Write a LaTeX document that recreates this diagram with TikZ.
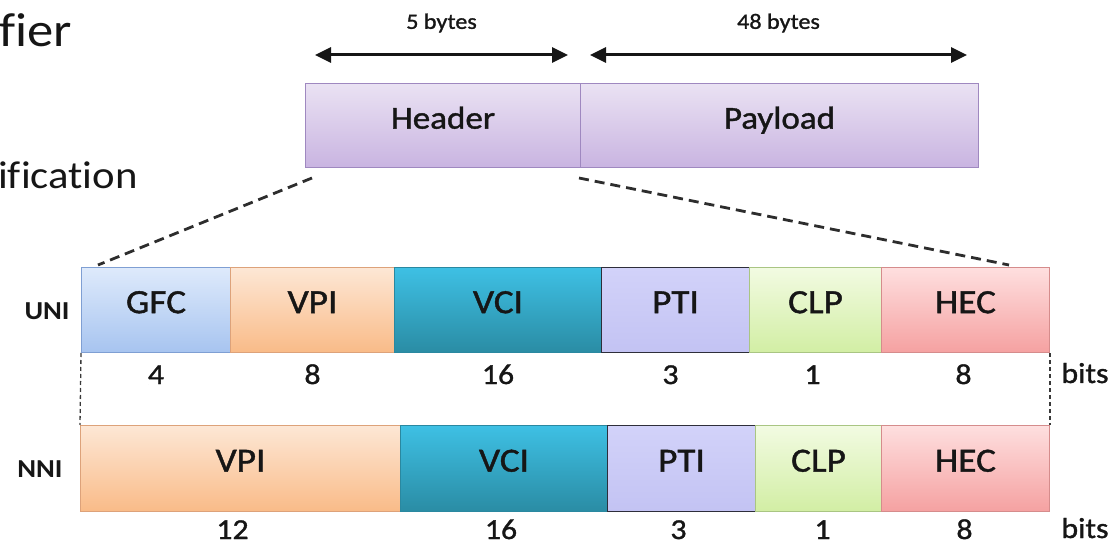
\documentclass[tikz,border=0pt]{standalone}
\usepackage{fontspec}
\setmainfont[FakeStretch=1.1,Ligatures=NoCommon]{Carlito}
\newfontfamily\diagfont[FakeStretch=1.1,FakeBold=1.2,Ligatures=NoCommon]{Carlito}
\usetikzlibrary{arrows.meta,calc}

% palette of the cell fields
\definecolor{ink}{HTML}{161616}
\definecolor{hdrTop}{HTML}{EAE2F3}
\definecolor{hdrBot}{HTML}{C9B4E1}
\definecolor{hdrLine}{HTML}{9F88C0}
\definecolor{gfcTop}{HTML}{DEEAFB}
\definecolor{gfcBot}{HTML}{A7C4F0}
\definecolor{gfcLine}{HTML}{7F9FD3}
\definecolor{vpiTop}{HTML}{FDE7D5}
\definecolor{vpiBot}{HTML}{F9BB88}
\definecolor{vpiLine}{HTML}{DDA27A}
\definecolor{vciTop}{HTML}{3EC0E4}
\definecolor{vciBot}{HTML}{2A8CA4}
\definecolor{vciLine}{HTML}{2A88A0}
\definecolor{ptiTop}{HTML}{D2D2F9}
\definecolor{ptiBot}{HTML}{C3C3F3}
\definecolor{ptiLine}{HTML}{2E2E3A}
\definecolor{clpTop}{HTML}{F2FBE2}
\definecolor{clpBot}{HTML}{D2EEA4}
\definecolor{clpLine}{HTML}{A9C583}
\definecolor{hecTop}{HTML}{FEDFDF}
\definecolor{hecBot}{HTML}{F5A1A1}
\definecolor{hecLine}{HTML}{D58C8C}

\tikzset{
  field/.style={draw, line width=1bp, inner sep=0pt, anchor=north west,
    text=ink, font=\diagfont\fontsize{34}{34}\selectfont, text height=0.63em, text depth=0pt},
  cellpart/.style={field, font=\diagfont\fontsize{32}{32}\selectfont},
  gfc/.style={top color=gfcTop, bottom color=gfcBot, draw=gfcLine},
  vpi/.style={top color=vpiTop, bottom color=vpiBot, draw=vpiLine},
  vci/.style={top color=vciTop, bottom color=vciBot, draw=vciLine},
  pti/.style={top color=ptiTop, bottom color=ptiBot, draw=ptiLine},
  clp/.style={top color=clpTop, bottom color=clpBot, draw=clpLine},
  hec/.style={top color=hecTop, bottom color=hecBot, draw=hecLine},
  hdr/.style={top color=hdrTop, bottom color=hdrBot, draw=hdrLine},
  width/.style={text=ink, font=\diagfont\fontsize{29}{29}\selectfont, anchor=base, inner sep=0pt},
  rowname/.style={text=ink, font=\fontsize{26}{26}\selectfont\bfseries, inner sep=0pt},
  span/.style={line width=3bp, ink, arrows={Triangle[length=16bp,width=15bp]-Triangle[length=16bp,width=15bp]}},
  spanlabel/.style={text=ink, font=\diagfont\fontsize{22}{22}\selectfont, inner sep=0pt},
  zoomline/.style={draw=ink!90, line width=2.8bp, dash pattern=on 10bp off 6bp},
  guide/.style={draw=ink!85, line width=1.3bp, dash pattern=on 4bp off 3bp},
  slide/.style={text=ink, anchor=base west, inner sep=0pt}
}

\begin{document}
\begin{tikzpicture}[x=1bp,y=-1bp]
\useasboundingbox (0,0) rectangle (1112,544);

% fragments of the slide text on the left
\node[slide, font=\fontsize{48}{48}\selectfont] (t1) at (-1,47) {fier};
\node[slide, font=\fontsize{39}{39}\selectfont] (t2) at (-2,189) {ification};

% ATM cell: header and payload
\node[field, cellpart, hdr, minimum width=275bp, minimum height=84bp] (hdr) at (305,83) {Header};
\node[field, cellpart, hdr, minimum width=398bp, minimum height=84bp] (pay) at (580,83) {Payload};

% byte spans above the cell
\coordinate (s1a) at ($(hdr.north west)+(10,-28)$);
\coordinate (s1b) at ($(hdr.north east)+(-13,-28)$);
\coordinate (s2a) at ($(pay.north west)+(10,-28)$);
\coordinate (s2b) at ($(pay.north east)+(-12,-28)$);
\draw[span] (s1a) -- (s1b);
\draw[span] (s2a) -- (s2b);
\node[spanlabel] (l5) at ($(s1a)!0.5!(s1b)+(0,-32)$) {5 bytes};
\node[spanlabel] (l48) at ($(s2a)!0.5!(s2b)+(0,-32)$) {48 bytes};

% UNI header format
\node[field, gfc, minimum width=149bp, minimum height=85bp] (ugfc) at (81,267) {GFC};
\node[field, vpi, minimum width=164bp, minimum height=85bp] (uvpi) at (230,267) {VPI};
\node[field, vci, minimum width=207bp, minimum height=85bp] (uvci) at (394,267) {VCI};
\node[field, pti, minimum width=148bp, minimum height=85bp] (upti) at (601,267) {PTI};
\node[field, clp, minimum width=132bp, minimum height=85bp] (uclp) at (749,267) {CLP};
\node[field, hec, minimum width=168bp, minimum height=85bp] (uhec) at (881,267) {HEC};
\node[rowname] (uni) at (47,311) {UNI};

% NNI header format
\node[field, vpi, minimum width=320bp, minimum height=86bp] (nvpi) at (80,425) {VPI};
\node[field, vci, minimum width=207bp, minimum height=86bp] (nvci) at (400,425) {VCI};
\node[field, pti, minimum width=148bp, minimum height=86bp] (npti) at (607,425) {PTI};
\node[field, clp, minimum width=126bp, minimum height=86bp] (nclp) at (755,425) {CLP};
\node[field, hec, minimum width=168bp, minimum height=86bp] (nhec) at (881,425) {HEC};
\node[rowname] (nni) at (40,469) {NNI};

% field widths in bits
\node[width] (wu1) at ($(ugfc.south)+(0,31)$) {4};
\node[width] (wu2) at ($(uvpi.south)+(0,31)$) {8};
\node[width] (wu3) at ($(uvci.south)+(0,31)$) {16};
\node[width] (wu4) at ($(upti.south)+(-5,31)$) {3};
\node[width] (wu5) at ($(uclp.south)+(-3,31)$) {1};
\node[width] (wu6) at ($(uhec.south)+(-2,31)$) {8};
\node[width] (bu) at (1085,383) {bits};

\node[width] (wn1) at ($(nvpi.south)+(-8,27)$) {12};
\node[width] (wn2) at ($(nvci.south)+(-3,27)$) {16};
\node[width] (wn3) at ($(npti.south)+(-3,27)$) {3};
\node[width] (wn4) at ($(nclp.south)+(4,27)$) {1};
\node[width] (wn5) at ($(nhec.south)+(-1,27)$) {8};
\node[width] (bn) at (1085,538) {bits};

% header expanded into its fields
\coordinate (zl0) at ($(hdr.south west)+(7,10)$);
\coordinate (zl1) at ($(ugfc.north west)+(17,-2)$);
\coordinate (zr0) at ($(hdr.south east)+(-2,10)$);
\coordinate (zr1) at ($(uhec.north east)+(-41,-2)$);
\draw[zoomline] (zl0) -- (zl1);
\draw[zoomline] (zr0) -- (zr1);

% alignment guides between the two formats
\draw[guide] (ugfc.south west) -- (nvpi.north west);
\draw[guide] (uhec.south east) -- (nhec.north east);
\end{tikzpicture}
\end{document}
